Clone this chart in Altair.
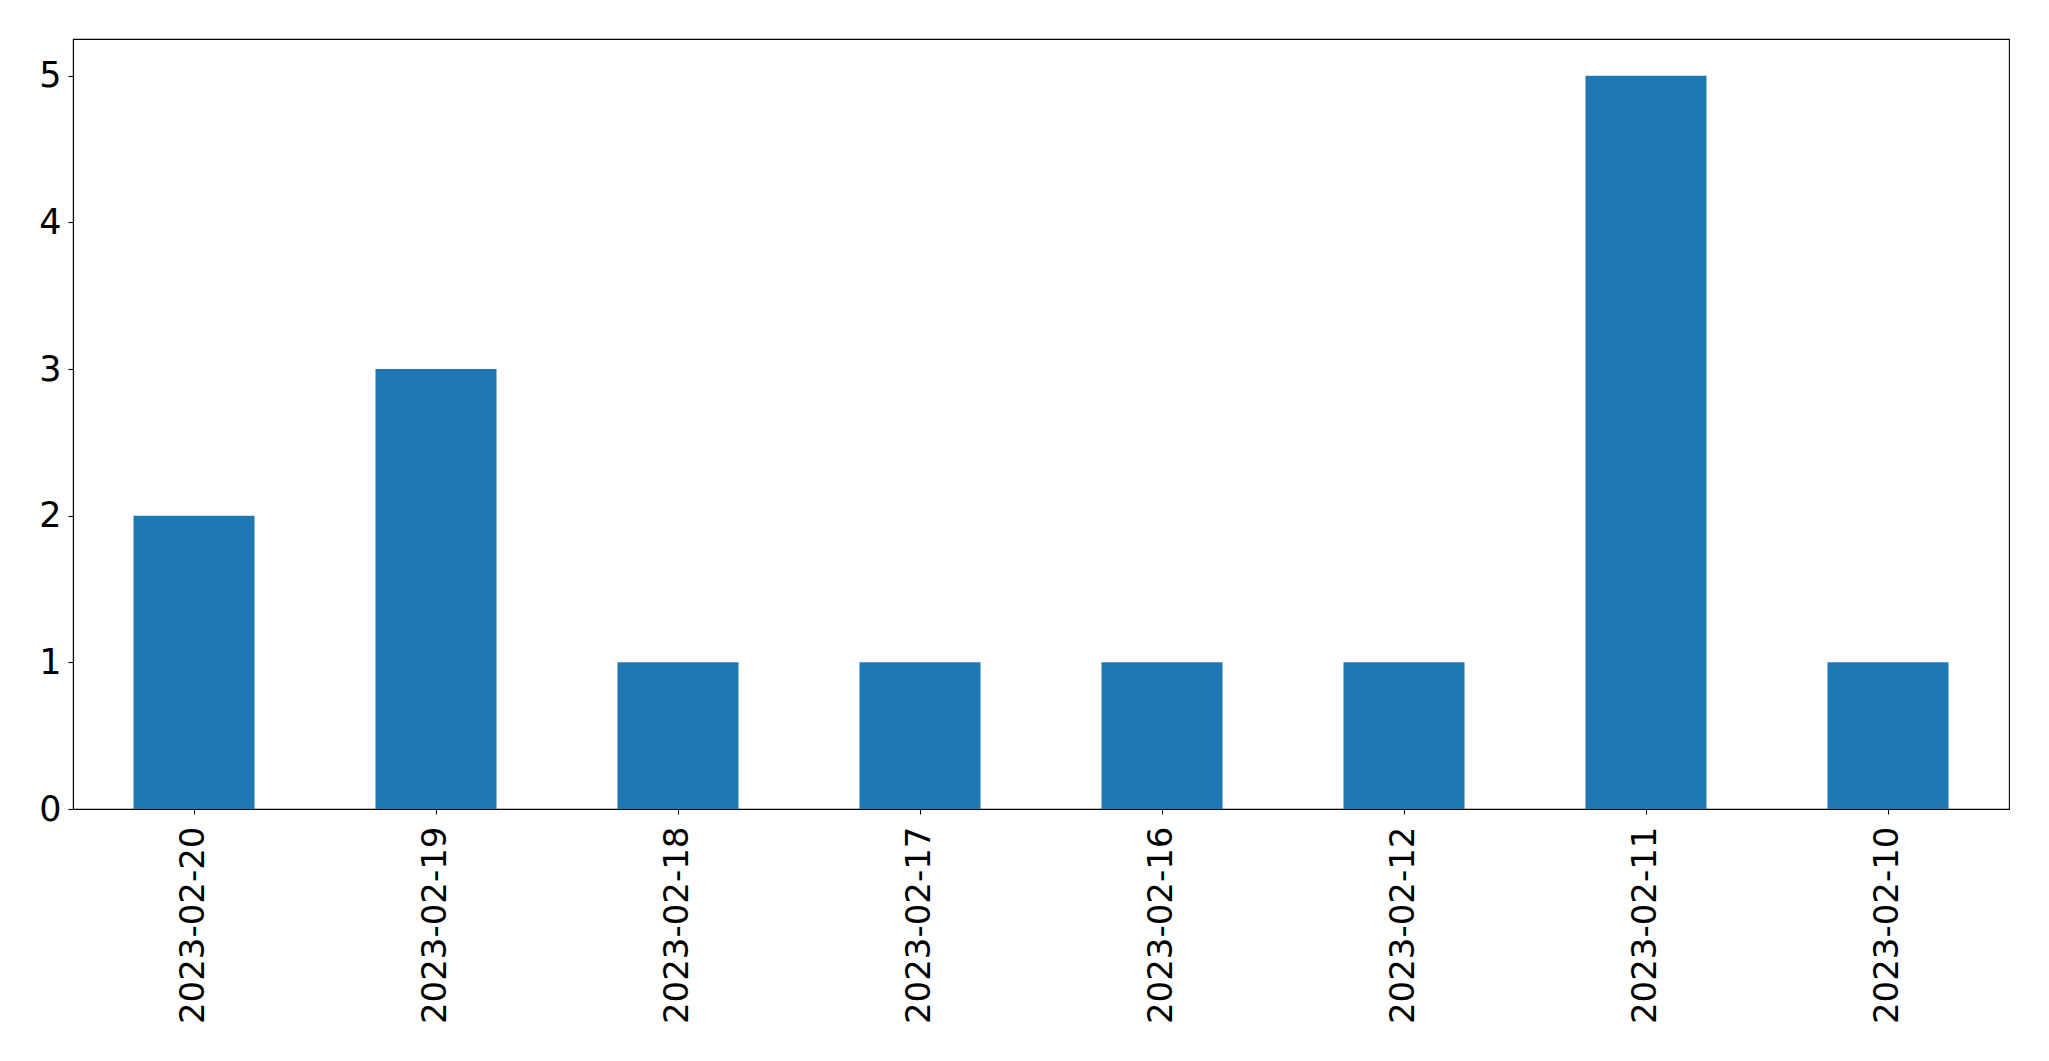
import altair as alt
import pandas as pd

dates = ["2023-02-20", "2023-02-19", "2023-02-18", "2023-02-17",
         "2023-02-16", "2023-02-12", "2023-02-11", "2023-02-10"]
counts = [2, 3, 1, 1, 1, 1, 5, 1]

df = pd.DataFrame({"date": dates, "count": counts})

FONT = "DejaVu Sans"

chart = (
    alt.Chart(df)
    .mark_bar(color="#1f77b4")
    .encode(
        x=alt.X(
            "date:N",
            sort=dates,
            title=None,
            scale=alt.Scale(paddingInner=0.5, paddingOuter=0.25),
            axis=alt.Axis(
                labelAngle=270,
                labelFont=FONT,
                labelFontSize=34,
                labelColor="black",
                labelPadding=12,
                labelLimit=0,
                tickSize=5,
                tickColor="black",
                tickWidth=1.1,
                domainColor="black",
                domainWidth=1.1,
                grid=False,
            ),
        ),
        y=alt.Y(
            "count:Q",
            title=None,
            scale=alt.Scale(domain=[0, 5.25], nice=False, zero=True),
            axis=alt.Axis(
                values=[0, 1, 2, 3, 4, 5],
                labelFont=FONT,
                labelFontSize=35,
                labelColor="black",
                labelPadding=7,
                tickSize=5,
                tickColor="black",
                tickWidth=1.1,
                domainColor="black",
                domainWidth=1.1,
                grid=False,
            ),
        ),
    )
    .properties(
        width=1936,
        height=770,
        background="white",
        autosize=alt.AutoSizeParams(type="none"),
        padding={"left": 65, "top": 31, "right": 20, "bottom": 230},
    )
    .configure_view(stroke="black", strokeWidth=1.1)
)

chart.save("out.html", embed_options={"renderer": "svg", "actions": False})
